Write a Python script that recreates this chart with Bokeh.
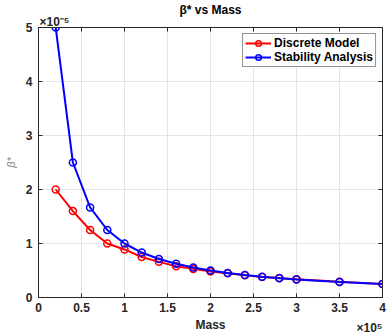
from bokeh.plotting import figure
from bokeh.models import (ColumnDataSource, LinearAxis, Range1d, FixedTicker, Title,
                          CustomJSTickFormatter, Legend, LegendItem)
from bokeh.embed import file_html
from bokeh.resources import INLINE

mass = [0.2, 0.4, 0.6, 0.8, 1.0, 1.2, 1.4, 1.6, 1.8, 2.0, 2.2, 2.4, 2.6, 2.8, 3.0, 3.5, 4.0]
discrete = [2.0, 1.6, 1.25, 1.0, 0.89, 0.75, 0.66, 0.58, 0.53, 0.48, 0.45, 0.41, 0.38, 0.36, 0.34, 0.29, 0.25]
stability = [5.0, 2.5, 1.667, 1.25, 1.0, 0.833, 0.714, 0.625, 0.556, 0.5, 0.455, 0.417, 0.385, 0.357, 0.333, 0.286, 0.25]
x_ticks = [0, 0.5, 1, 1.5, 2, 2.5, 3, 3.5, 4]
y_ticks = [0, 1, 2, 3, 4, 5]

FONT = "Liberation Sans"
TXT = "#262626"

p = figure(width=389, height=334, output_backend="svg", toolbar_location=None,
           x_range=Range1d(0, 4), y_range=Range1d(0, 5),
           min_border_left=38, min_border_right=7, min_border_top=27, min_border_bottom=37)
p.outline_line_color = TXT
p.outline_line_width = 1
p.background_fill_color = "white"
p.title.text = ""

fmt = CustomJSTickFormatter(code="return String(Math.round(tick*10)/10)")
blank = CustomJSTickFormatter(code="return ''")
for ax in (p.xaxis[0], p.yaxis[0]):
    ax.major_tick_in = 4
    ax.major_tick_out = 0
    ax.minor_tick_in = 0
    ax.minor_tick_out = 0
    ax.axis_line_color = TXT
    ax.major_tick_line_color = TXT
    ax.major_label_text_font = FONT
    ax.major_label_text_font_style = "bold"
    ax.major_label_text_font_size = "12px"
    ax.major_label_text_color = TXT
    ax.formatter = fmt
p.xaxis[0].ticker = FixedTicker(ticks=x_ticks)
p.yaxis[0].ticker = FixedTicker(ticks=y_ticks)
p.xaxis[0].major_label_standoff = 5
p.yaxis[0].major_label_standoff = 6

p.xaxis[0].axis_label = "Mass"
p.xaxis[0].axis_label_text_font = FONT
p.xaxis[0].axis_label_text_font_style = "bold"
p.xaxis[0].axis_label_text_font_size = "12px"
p.xaxis[0].axis_label_text_color = TXT
p.xaxis[0].axis_label_standoff = 3

p.yaxis[0].axis_label = "β*"
p.yaxis[0].axis_label_text_font = FONT
p.yaxis[0].axis_label_text_font_style = "italic"
p.yaxis[0].axis_label_text_font_size = "11px"
p.yaxis[0].axis_label_text_color = "#808080"
p.yaxis[0].axis_label_standoff = 6

top = LinearAxis(ticker=FixedTicker(ticks=x_ticks), formatter=blank,
                 major_tick_in=4, major_tick_out=0, minor_tick_in=0, minor_tick_out=0,
                 axis_line_color=TXT, major_tick_line_color=TXT, major_label_standoff=0)
right = LinearAxis(ticker=FixedTicker(ticks=y_ticks), formatter=blank,
                   major_tick_in=4, major_tick_out=0, minor_tick_in=0, minor_tick_out=0,
                   axis_line_color=TXT, major_tick_line_color=TXT, major_label_standoff=0)
p.add_layout(top, "above")
p.add_layout(right, "right")

p.xgrid.ticker = FixedTicker(ticks=x_ticks)
p.ygrid.ticker = FixedTicker(ticks=y_ticks)
p.grid.grid_line_color = "#e3e3e3"
p.grid.grid_line_width = 1

src = ColumnDataSource(dict(x=mass, d=discrete, s=stability))
rl = p.line("x", "d", source=src, color="#ff0000", line_width=2)
rc = p.scatter("x", "d", source=src, size=7, line_color="#ff0000", fill_alpha=0, line_width=1.5)
bl = p.line("x", "s", source=src, color="#0000ff", line_width=2)
bc = p.scatter("x", "s", source=src, size=7, line_color="#0000ff", fill_alpha=0, line_width=1.5)

legend = Legend(items=[LegendItem(label="Discrete Model", renderers=[rl, rc]),
                       LegendItem(label="Stability Analysis", renderers=[bl, bc])],
                location="top_right")
legend.label_text_font = FONT
legend.label_text_font_style = "bold"
legend.label_text_font_size = "12px"
legend.label_text_color = "black"
legend.border_line_color = TXT
legend.border_line_width = 1
legend.margin = 6
legend.padding = 2
legend.spacing = 0
legend.glyph_width = 26
legend.glyph_height = 14
legend.label_standoff = 3
legend.label_height = 14
p.add_layout(legend, "center")

# exponent label above the y axis
exp_top = Title(text="×10⁻⁵", align="left", offset=1, standoff=-5, vertical_align="middle",
                text_font=FONT, text_font_size="12px", text_font_style="bold", text_color=TXT)
p.add_layout(exp_top, "above")
# main title
main_title = Title(text="β* vs Mass", align="center", standoff=0, vertical_align="bottom",
                   text_font=FONT, text_font_size="12px", text_font_style="bold", text_color="black")
p.add_layout(main_title, "above")
# exponent label at the end of the x axis
exp_bot = Title(text="×10⁵", align="right", offset=0, standoff=-27, vertical_align="top",
                text_font=FONT, text_font_size="12px", text_font_style="bold", text_color=TXT)
p.add_layout(exp_bot, "below")

open("out.html", "w").write(file_html(p, INLINE))
